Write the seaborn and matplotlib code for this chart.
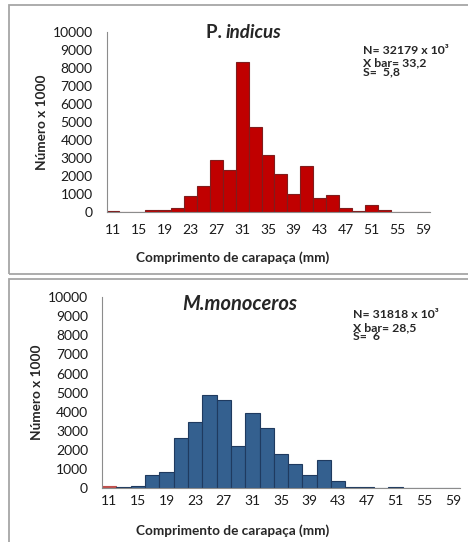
import matplotlib
matplotlib.use("Agg")
import matplotlib.pyplot as plt
from matplotlib.patches import Rectangle
import seaborn as sns
import pandas as pd

# Carapace length classes (mm), 2 mm wide
lengths = list(range(11, 60, 2))
tick_labels = [str(v) if (v - 11) % 4 == 0 else "" for v in lengths]

# Number of individuals (x 1000) per length class
indicus_counts = [50, 0, 0, 90, 90, 220, 890, 1450, 2880, 2340, 8330, 4710,
                  3150, 2130, 980, 2540, 760, 960, 220, 70, 410, 90, 0, 0, 0]
monoceros_counts = [100, 50, 140, 710, 850, 2650, 3470, 4900, 4630, 2200, 3920,
                    3150, 1810, 1290, 710, 1480, 380, 90, 90, 0, 80, 0, 0, 0, 0]

indicus_stats = ["N= 32179 x 10\u00b3", "X bar= 33,2", "S=  5,8"]
monoceros_stats = ["N= 31818 x 10\u00b3", "X bar= 28,5", "S=  6"]

W, H = 468, 542
sns.set_style("white")
plt.rcParams["font.family"] = ["Lato", "DejaVu Sans"]

fig = plt.figure(figsize=(W / 100, H / 100), dpi=100)


def px_rect(x0, y0, x1, y1):
    """Pixel box (top-left origin) -> figure fraction [l, b, w, h]."""
    return [x0 / W, 1 - y1 / H, (x1 - x0) / W, (y1 - y0) / H]


# panel frames
for (x0, y0, x1, y1) in [(9, 5, 480, 274), (9, 279, 480, 560)]:
    l, b, w, h = px_rect(x0, y0, x1, y1)
    fig.add_artist(Rectangle((l, b), w, h, transform=fig.transFigure,
                             fill=False, edgecolor="#a6a6a6", linewidth=1.3,
                             clip_on=False))

GRAY = "#8c8c8c"
TICK_FS = 10
LABEL_FS = 9.8
TITLE_FS = 13.5
STAT_FS = 8.8


def draw_panel(box, counts, colors, edges, ylabel_x, xlabel_y, xpad):
    ax = fig.add_axes(px_rect(*box))
    df = pd.DataFrame({"comprimento": [str(v) for v in lengths],
                       "numero": counts})
    sns.barplot(data=df, x="comprimento", y="numero", hue="comprimento",
                palette=colors, legend=False, width=1.0, ax=ax,
                linewidth=0.8, saturation=1)
    for patch, ec in zip(ax.patches, edges):
        patch.set_edgecolor(ec)
    ax.set_xlim(-0.5, len(lengths) - 0.5)
    ax.set_ylim(0, 10000)
    ax.set_yticks(range(0, 10001, 1000))
    ax.set_yticklabels([str(v) for v in range(0, 10001, 1000)],
                       fontsize=TICK_FS, color="#1a1a1a")
    ax.set_xticks(range(len(lengths)))
    ax.set_xticklabels(tick_labels, fontsize=TICK_FS, color="#1a1a1a")
    ax.set_xticks([i - 0.5 for i in range(len(lengths) + 1)], minor=True)
    ax.tick_params(axis="x", which="major", length=0, pad=xpad)
    ax.tick_params(axis="x", which="minor", length=3, color=GRAY, width=0.8)
    ax.tick_params(axis="y", which="major", length=3, color=GRAY, width=0.8,
                   pad=7)
    for s in ("top", "right"):
        ax.spines[s].set_visible(False)
    for s in ("left", "bottom"):
        ax.spines[s].set_color(GRAY)
        ax.spines[s].set_linewidth(0.8)
    ax.set_xlabel("")
    ax.set_ylabel("")

    fig.text(ylabel_x / W, 1 - (box[1] + box[3]) / 2 / H, "Número x 1000",
             rotation=90, ha="center", va="center", fontsize=LABEL_FS,
             fontweight="bold")
    fig.text(233 / W, 1 - xlabel_y / H, "Comprimento de carapaça (mm)",
             ha="center", va="center", fontsize=LABEL_FS, fontweight="bold")
    return ax


def draw_stats(stats, x, y_n, y_rest):
    fig.text(x / W, 1 - y_n / H, stats[0], ha="left", va="center",
             fontsize=STAT_FS, fontweight="bold")
    fig.text(x / W, 1 - y_rest / H, stats[1] + "\n" + stats[2], ha="left",
             va="center", fontsize=STAT_FS, fontweight="bold",
             linespacing=0.72)


# ---- P. indicus ----
n = len(lengths)
ax1 = draw_panel((106.5, 32.3, 429.5, 212), indicus_counts,
                 ["#c00000"] * n, ["#7f1d1d"] * n, 42, 258, 9)
fig.text(226 / W, 1 - 32 / H, "P. ", ha="right", va="center",
         fontsize=TITLE_FS, fontweight="bold")
fig.text(226 / W, 1 - 32 / H, "indicus", ha="left", va="center",
         fontsize=TITLE_FS, fontweight="bold", style="italic")
draw_stats(indicus_stats, 363, 51, 67.5)

# ---- M. monoceros ----
mono_colors = ["#c0504d"] + ["#34608f"] * (n - 1)
mono_edges = ["#c0504d"] + ["#1f3a5f"] * (n - 1)
ax2 = draw_panel((102, 297, 460, 488.3), monoceros_counts, mono_colors,
                 mono_edges, 37, 531, 5)
fig.text(240 / W, 1 - 304 / H, "M.monoceros", ha="center", va="center",
         fontsize=14.5, fontweight="bold", style="italic")
draw_stats(monoceros_stats, 353, 315, 332)

fig.savefig("out.png", dpi=100)
